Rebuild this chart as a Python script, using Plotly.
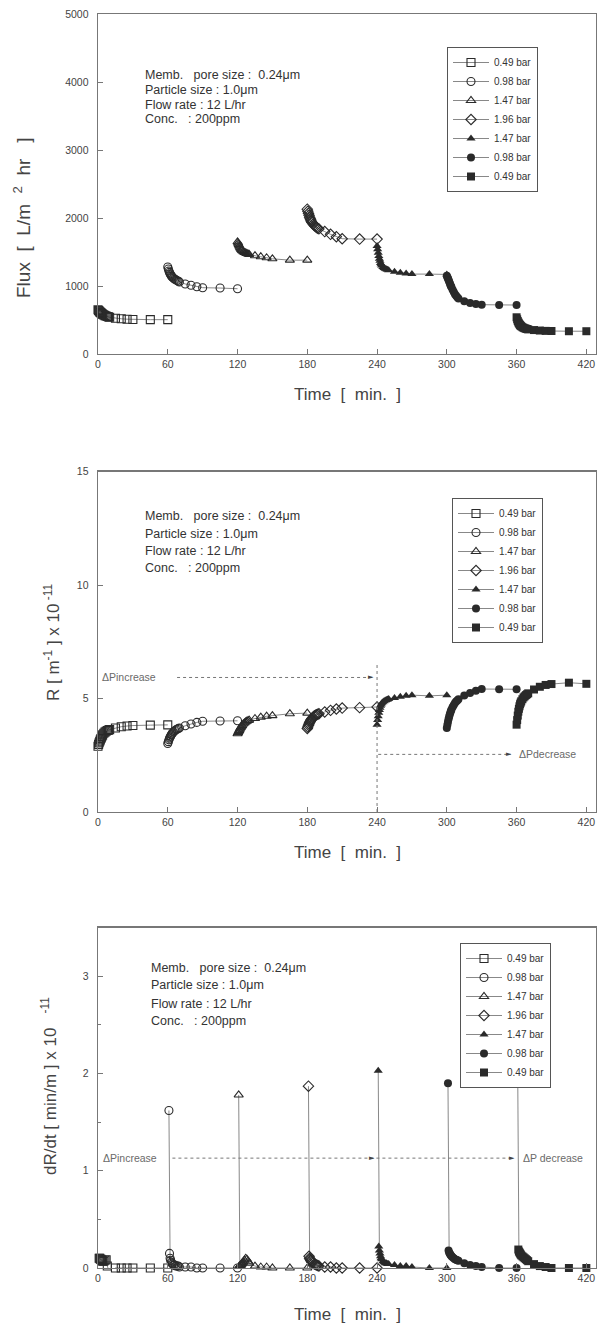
import plotly.graph_objects as go

# ---------------- data ----------------
STAGE_START = [0, 60, 120, 180, 240, 300, 360]
STAGE_LABELS = ["0.49 bar", "0.98 bar", "1.47 bar", "1.96 bar", "1.47 bar", "0.98 bar", "0.49 bar"]
# minutes after each pressure step
OFFSETS = [0, 0.5, 1, 1.5, 2, 2.5, 3, 3.5, 4, 5, 6, 7, 8, 9, 10, 15, 20, 25, 30, 45, 60]
RATE_OFFSETS = [1, 1.5, 2, 2.5, 3, 3.5, 4, 5, 6, 7, 8, 9, 10, 15, 20, 25, 30, 45, 60]

FLUX = [
    [650, 640, 630, 620, 612, 605, 598, 590, 585, 575, 565, 558, 552, 546, 540, 525, 518, 512, 508, 505, 505],
    [1280, 1250, 1220, 1200, 1180, 1165, 1150, 1140, 1130, 1115, 1100, 1090, 1080, 1070, 1060, 1030, 1010, 990, 975, 970, 960],
    [1650, 1630, 1610, 1590, 1570, 1555, 1540, 1530, 1520, 1505, 1495, 1485, 1478, 1472, 1465, 1445, 1430, 1415, 1400, 1380, 1380],
    [2130, 2100, 2070, 2040, 2010, 1990, 1970, 1950, 1935, 1910, 1890, 1875, 1860, 1850, 1840, 1800, 1760, 1725, 1695, 1690, 1690],
    [1590, 1540, 1490, 1440, 1400, 1370, 1340, 1320, 1300, 1280, 1265, 1255, 1245, 1238, 1230, 1210, 1195, 1185, 1175, 1175, 1170],
    [1150, 1130, 1110, 1090, 1065, 1045, 1020, 1000, 980, 945, 910, 880, 855, 835, 815, 775, 750, 735, 725, 720, 720],
    [540, 510, 485, 465, 450, 437, 425, 415, 408, 395, 385, 378, 372, 367, 362, 352, 345, 340, 338, 335, 335],
]

RESIST = [
    [2.90, 2.98, 3.05, 3.12, 3.18, 3.24, 3.30, 3.35, 3.40, 3.47, 3.52, 3.56, 3.59, 3.61, 3.63, 3.70, 3.76, 3.79, 3.81, 3.83, 3.84],
    [3.02, 3.10, 3.18, 3.25, 3.30, 3.35, 3.40, 3.44, 3.48, 3.53, 3.58, 3.62, 3.65, 3.68, 3.70, 3.80, 3.88, 3.95, 4.00, 4.01, 4.02],
    [3.45, 3.50, 3.55, 3.60, 3.65, 3.70, 3.74, 3.78, 3.82, 3.88, 3.93, 3.97, 4.00, 4.03, 4.05, 4.12, 4.18, 4.22, 4.25, 4.33, 4.36],
    [3.68, 3.75, 3.82, 3.88, 3.94, 3.99, 4.04, 4.08, 4.12, 4.18, 4.23, 4.26, 4.29, 4.31, 4.33, 4.41, 4.48, 4.54, 4.58, 4.60, 4.63],
    [3.85, 4.05, 4.22, 4.38, 4.50, 4.60, 4.68, 4.74, 4.79, 4.84, 4.88, 4.91, 4.94, 4.96, 4.98, 5.03, 5.08, 5.12, 5.15, 5.12, 5.15],
    [3.70, 3.85, 3.98, 4.10, 4.20, 4.30, 4.38, 4.45, 4.52, 4.63, 4.72, 4.80, 4.87, 4.92, 4.97, 5.13, 5.25, 5.35, 5.42, 5.41, 5.41],
    [3.85, 4.05, 4.25, 4.42, 4.55, 4.66, 4.75, 4.82, 4.88, 4.97, 5.05, 5.10, 5.15, 5.19, 5.23, 5.40, 5.52, 5.60, 5.64, 5.70, 5.65],
]

RATE = [
    [0.10, 0.10, 0.09, 0.09, 0.08, 0.08, 0.07, 0.07, 0.08, 0.085, 0.02, -0.03, -0.05, 0.0, 0.0, 0.0, 0.0, 0.0, 0.0],
    [1.62, 0.15, 0.10, 0.08, 0.06, 0.05, 0.04, 0.03, 0.03, 0.02, 0.02, 0.02, 0.01, 0.01, 0.01, 0.0, 0.0, 0.0, 0.0],
    [1.78, 0.02, 0.02, 0.03, 0.03, 0.04, 0.05, 0.06, 0.08, 0.10, 0.09, 0.07, 0.05, 0.02, 0.01, 0.01, 0.0, 0.0, 0.0],
    [1.87, 0.12, 0.10, 0.09, 0.08, 0.07, 0.06, 0.05, 0.04, 0.035, 0.03, 0.025, 0.02, 0.01, 0.01, 0.0, 0.0, 0.0, 0.0],
    [2.03, 0.22, 0.18, 0.15, 0.12, 0.10, 0.09, 0.07, 0.06, 0.05, 0.05, 0.04, 0.04, 0.03, 0.02, 0.02, 0.01, 0.0, 0.0],
    [1.90, 0.18, 0.16, 0.15, 0.14, 0.13, 0.12, 0.11, 0.10, 0.09, 0.085, 0.08, 0.075, 0.05, 0.03, 0.02, 0.01, 0.0, 0.0],
    [1.94, 0.19, 0.17, 0.16, 0.15, 0.14, 0.13, 0.12, 0.11, 0.10, 0.09, 0.08, 0.07, 0.04, 0.02, 0.01, 0.0, 0.0, 0.0],
]

X_TICKS = [0, 60, 120, 180, 240, 300, 360, 420]
NB = "\u00a0"
INFO_LINES = ["Memb." + NB * 2 + " pore size : " + NB + "0.24\u03bcm", "Particle size : 1.0\u03bcm",
              "Flow rate : 12 L/hr", "Conc." + NB * 2 + " : 200ppm"]

# ---------------- style ----------------
SYMBOLS = ["square-open", "circle-open", "triangle-up-open", "diamond-open", "triangle-up", "circle", "square"]
FONT = "Arial, Liberation Sans, sans-serif"
AX = "#777777"
TXT = "#444444"
INK = "#2a2a2a"

fig = go.Figure()

panels = [
    (FLUX, OFFSETS, "x", "y", "legend"),
    (RESIST, OFFSETS, "x2", "y2", "legend2"),
    (RATE, RATE_OFFSETS, "x3", "y3", "legend3"),
]
for values, offs, xa, ya, lg in panels:
    for i, start in enumerate(STAGE_START):
        t = [start + o for o in offs]
        filled = not SYMBOLS[i].endswith("open")
        fig.add_trace(go.Scatter(
            x=t, y=values[i], mode="lines+markers", name=STAGE_LABELS[i],
            xaxis=xa, yaxis=ya, legend=lg, cliponaxis=False,
            line=dict(color="#7a7a7a", width=0.9),
            marker=dict(symbol=SYMBOLS[i], size=8, color=INK,
                        line=dict(width=0 if filled else 1.1, color=INK)),
        ))

# domains computed from the reference pixel layout
H, W = 1329, 598
ML, MR, MT, MB = 98, 2, 14, 61
PH = H - MT - MB
PW = W - ML - MR

def py2paper(py):
    return (H - MB - py) / PH

def px2paper(px):
    return (px - ML) / PW

xcommon = dict(range=[0, 428.3], tickvals=X_TICKS, ticks="inside", ticklen=5, tickcolor=AX,
               showline=True, linecolor=AX, linewidth=1.4, mirror=True, showgrid=False,
               zeroline=False, automargin=False,
               tickfont=dict(family=FONT, size=10.5, color=TXT))
ycommon = dict(ticks="inside", ticklen=5, tickcolor=AX, showline=True, linecolor=AX,
               linewidth=1.4, mirror=True, showgrid=False, zeroline=False, automargin=False,
               tickfont=dict(family=FONT, size=10.5, color=TXT), ticklabelstandoff=6)

fig.update_layout(
    width=W, height=H, margin=dict(l=ML, r=MR, t=MT, b=MB, autoexpand=False),
    paper_bgcolor="white", plot_bgcolor="white", hovermode=False,
    font=dict(family=FONT, color=TXT),
    xaxis=dict(xcommon, anchor="y"),
    xaxis2=dict(xcommon, anchor="y2"),
    xaxis3=dict(xcommon, anchor="y3"),
    yaxis=dict(ycommon, domain=[py2paper(354), 1.0], range=[0, 5000], dtick=1000, anchor="x"),
    yaxis2=dict(ycommon, domain=[py2paper(812), py2paper(471.7)], range=[0, 15], dtick=5, anchor="x2"),
    yaxis3=dict(ycommon, domain=[0, py2paper(927.7)], range=[0, 3.5], dtick=1, anchor="x3",
                minor=dict(dtick=0.5, ticks="inside", ticklen=3, tickcolor=AX)),
)

leg = dict(xanchor="left", yanchor="top", bordercolor="#555555", borderwidth=1, bgcolor="white",
           font=dict(family=FONT, size=10, color="#333333"), tracegroupgap=0, itemwidth=36)
fig.update_layout(
    legend=dict(leg, x=px2paper(447), y=py2paper(47)),
    legend2=dict(leg, x=px2paper(452), y=py2paper(498)),
    legend3=dict(leg, x=px2paper(460), y=py2paper(943)),
)

ann = []
# info text blocks
for xa, ya, x0, ys in [("x", "y", 39, [4103, 3882, 3662, 3456]),
                       ("x2", "y2", 39, [13.05, 12.27, 11.5, 10.75]),
                       ("x3", "y3", 44, [3.09, 2.91, 2.72, 2.54])]:
    for line, yv in zip(INFO_LINES, ys):
        ann.append(dict(x=x0, y=yv, xref=xa, yref=ya, text=line, showarrow=False,
                        xanchor="left", yanchor="middle",
                        font=dict(family=FONT, size=12.5, color="#333333")))

# axis titles
title_font = dict(family=FONT, size=17, color=TXT)
sp2 = NB + " "
for y in [py2paper(395), py2paper(853), py2paper(1314)]:
    ann.append(dict(x=0.5, y=y, xref="paper", yref="paper", text="Time" + sp2 + "[" + sp2 + "min." + sp2 + "]",
                    showarrow=False, xanchor="center", yanchor="middle", font=title_font))
ann.append(dict(x=px2paper(22), y=py2paper(218), xref="paper", yref="paper",
                text="Flux" + sp2 + "[" + sp2 + "L/m" + sp2 + "<sup>2</sup>" + sp2 + "hr" + sp2 + NB + "]",
                textangle=-90, showarrow=False,
                xanchor="center", yanchor="middle", font=dict(family=FONT, size=19, color=TXT)))
ann.append(dict(x=px2paper(52), y=py2paper(643), xref="paper", yref="paper",
                text="R [ m<sup>-1</sup> ] x 10<sup> -11</sup>", textangle=-90, showarrow=False,
                xanchor="center", yanchor="middle", font=title_font))
ann.append(dict(x=px2paper(49), y=py2paper(1086), xref="paper", yref="paper",
                text="dR/dt [ min/m ] x 10" + NB * 3 + "<sup>-11</sup>", textangle=-90, showarrow=False,
                xanchor="center", yanchor="middle", font=title_font))

# pressure change guides
small = dict(family=FONT, size=10.5, color="#6a6a6a")
ann += [
    dict(x=2, y=5.93, xref="x2", yref="y2", text="\u0394Pincrease", showarrow=False,
         xanchor="left", yanchor="middle", font=small),
    dict(x=360, y=2.54, xref="x2", yref="y2", text="\u0394Pdecrease", showarrow=False,
         xanchor="left", yanchor="middle", font=small),
    dict(x=3, y=1.13, xref="x3", yref="y3", text="\u0394Pincrease", showarrow=False,
         xanchor="left", yanchor="middle", font=small),
    dict(x=364, y=1.13, xref="x3", yref="y3", text="\u0394P decrease", showarrow=False,
         xanchor="left", yanchor="middle", font=small),
]
# arrow heads as small glyphs at the ends of the dotted guides
for xa, ya, xv, yv in [("x2", "y2", 239, 5.93), ("x2", "y2", 358, 2.54),
                       ("x3", "y3", 240, 1.13), ("x3", "y3", 360, 1.13)]:
    ann.append(dict(x=xv, y=yv, xref=xa, yref=ya, text="\u25ba", showarrow=False,
                    xanchor="right", yanchor="middle",
                    font=dict(family="DejaVu Sans", size=7, color="#444444")))
fig.update_layout(annotations=ann)

dot = dict(color="#777777", width=1, dash="dot")
fig.update_layout(shapes=[
    dict(type="line", xref="x2", yref="y2", x0=240, x1=240, y0=0, y1=6.5, line=dot),
    dict(type="line", xref="x2", yref="y2", x0=68, x1=236, y0=5.93, y1=5.93, line=dot),
    dict(type="line", xref="x2", yref="y2", x0=241, x1=355, y0=2.54, y1=2.54, line=dot),
    dict(type="line", xref="x3", yref="y3", x0=64, x1=356, y0=1.13, y1=1.13, line=dot),
])

fig.write_html("out.html", config={"displayModeBar": False, "staticPlot": True},
               post_script="document.body.style.margin='0px';document.body.style.overflow='hidden';")
